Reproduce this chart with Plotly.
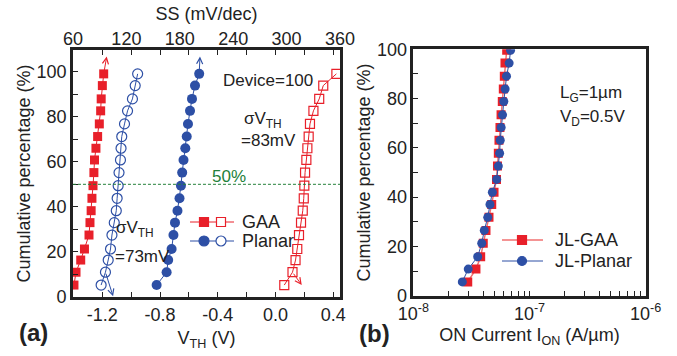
import plotly.graph_objects as go

# ---------------- data ----------------
# panel (a): cumulative percentage of 100 devices
pct_a = [5.3, 11.0, 16.4, 21.3, 27.5, 33.0, 38.3, 43.8, 49.4, 55.2, 60.8, 66.0, 71.2, 76.8, 82.6, 87.9, 93.8, 99.0]
ss_gaa = [61.1, 63.4, 68.7, 72.9, 78.0, 79.1, 80.4, 81.3, 82.5, 83.5, 84.2, 85.8, 87.7, 89.6, 91.1, 91.7, 93.0, 94.5]
ss_planar = [154.0, 165.2, 167.0, 170.8, 172.9, 174.6, 177.4, 179.7, 181.3, 182.7, 184.2, 186.2, 187.8, 189.2, 191.5, 193.7, 197.1, 201.8]
vth_gaa = [0.061, 0.118, 0.139, 0.151, 0.163, 0.177, 0.189, 0.196, 0.200, 0.205, 0.214, 0.221, 0.230, 0.239, 0.263, 0.303, 0.331, 0.422]
vth_planar = [-1.208, -1.178, -1.159, -1.143, -1.133, -1.117, -1.103, -1.097, -1.090, -1.084, -1.074, -1.070, -1.065, -1.046, -1.025, -0.991, -0.972, -0.955]

# panel (b)
pct_b = [5.6, 10.8, 15.8, 21.3, 26.5, 31.8, 37.0, 42.0, 47.2, 52.6, 57.8, 63.1, 68.3, 73.4, 78.8, 83.9, 89.1, 94.4, 99.6]
ion_gaa = [2.94e-8, 3.46e-8, 3.80e-8, 4.00e-8, 4.22e-8, 4.48e-8, 4.73e-8, 4.95e-8, 5.20e-8, 5.30e-8,
           5.39e-8, 5.46e-8, 5.57e-8, 5.69e-8, 5.83e-8, 5.95e-8, 6.07e-8, 6.15e-8, 6.36e-8]
ion_planar = [2.64e-8, 2.97e-8, 3.58e-8, 3.88e-8, 4.08e-8, 4.37e-8, 4.57e-8, 4.79e-8, 5.22e-8, 5.39e-8,
              5.53e-8, 5.60e-8, 5.70e-8, 5.86e-8, 6.01e-8, 6.17e-8, 6.34e-8, 6.68e-8, 6.87e-8]

vth_ticks = [-1.2, -1.0, -0.8, -0.6, -0.4, -0.2, 0.0, 0.2, 0.4]
vth_text = ["-1.2", "", "-0.8", "", "-0.4", "", "0.0", "", "0.4"]
ss_ticks = [60, 120, 180, 240, 300, 360]
pct_ticks = [0, 10, 20, 30, 40, 50, 60, 70, 80, 90, 100]
pct_text = ["0", "", "20", "", "40", "", "60", "", "80", "", "100"]
ion_ticks = [m * 10.0 ** e for e in (-8, -7) for m in range(1, 10)] + [1e-6]
ion_text = ["10<sup>-8</sup>" if i == 0 else ("10<sup>-7</sup>" if i == 9 else "") for i in range(18)] + ["10<sup>-6</sup>"]

RED = "#e8202a"
BLUE = "#2d4fa5"
GREEN = "#23803a"
INK = "#222222"
FONT = "Liberation Sans, Arial, sans-serif"

fig = go.Figure()

# panel (a) traces
fig.add_trace(go.Scatter(x=ss_gaa, y=pct_a, xaxis="x2", yaxis="y", mode="lines+markers",
                         line=dict(color=RED, width=1),
                         marker=dict(symbol="square", size=9, color=RED), showlegend=False))
fig.add_trace(go.Scatter(x=vth_planar, y=pct_a, xaxis="x", yaxis="y", mode="lines+markers",
                         line=dict(color=BLUE, width=1),
                         marker=dict(symbol="circle-open", size=10, color=BLUE, line=dict(width=1.2)),
                         showlegend=False))
fig.add_trace(go.Scatter(x=ss_planar, y=pct_a, xaxis="x2", yaxis="y", mode="lines+markers",
                         line=dict(color=BLUE, width=1),
                         marker=dict(symbol="circle", size=10, color=BLUE), showlegend=False))
fig.add_trace(go.Scatter(x=vth_gaa, y=pct_a, xaxis="x", yaxis="y", mode="lines+markers",
                         line=dict(color=RED, width=1),
                         marker=dict(symbol="square-open", size=9, color=RED, line=dict(width=1.2)),
                         showlegend=False))

# panel (b) traces
fig.add_trace(go.Scatter(x=ion_gaa, y=pct_b, xaxis="x3", yaxis="y3", mode="lines+markers",
                         line=dict(color="#f07070", width=1.5),
                         marker=dict(symbol="square", size=9, color=RED), name="JL-GAA", showlegend=False))
fig.add_trace(go.Scatter(x=ion_planar, y=pct_b, xaxis="x3", yaxis="y3", mode="lines+markers",
                         line=dict(color=BLUE, width=1),
                         marker=dict(symbol="circle", size=9, color=BLUE), name="JL-Planar", showlegend=False))

axis_common = dict(showline=True, linewidth=2.5, linecolor=INK, showgrid=False, zeroline=False,
                   ticks="inside", ticklen=5, tickwidth=1, tickcolor=INK, automargin=False,
                   tickfont=dict(size=18, color=INK, family=FONT))

fig.update_layout(
    width=677, height=356, margin=dict(l=0, r=0, t=0, b=0, autoexpand=False),
    paper_bgcolor="white", plot_bgcolor="white",
    font=dict(family=FONT, color=INK),
    xaxis=dict(domain=[0.1078, 0.5022], anchor="y", range=[-1.403, 0.447], tickmode="array",
               tickvals=vth_ticks, ticktext=vth_text, mirror="ticks",
               title=dict(text="V<sub>TH</sub> (V)", font=dict(size=18, family=FONT), standoff=8),
               **axis_common),
    xaxis2=dict(overlaying="x", side="top", anchor="y", range=[60, 360], tickmode="array",
                tickvals=ss_ticks, showline=False, showgrid=False, zeroline=False, ticks="",
                automargin=False,
                tickfont=dict(size=18, color=INK, family=FONT),
                title=dict(text="SS (mV/dec)", font=dict(size=18, family=FONT), standoff=4)),
    yaxis=dict(domain=[0.1657, 0.8596], anchor="x", range=[0, 109.6], tickmode="array",
               tickvals=pct_ticks, ticktext=pct_text, mirror=True,
               title=dict(text="Cumulative percentage (%)", font=dict(size=18, family=FONT), standoff=2),
               **axis_common),
    xaxis3=dict(domain=[0.6105, 0.9538], anchor="y3", type="log", range=[-8, -6], tickmode="array",
                tickvals=ion_ticks, ticktext=ion_text, mirror=True,
                title=dict(text="ON Current I<sub>ON</sub> (A/\u00b5m)", font=dict(size=18, family=FONT), standoff=6),
                **axis_common),
    yaxis3=dict(domain=[0.1694, 0.8615], anchor="x3", range=[0, 100], tickmode="array",
                tickvals=pct_ticks, ticktext=pct_text, mirror=True,
                title=dict(text="Cumulative percentage (%)", font=dict(size=18, family=FONT), standoff=2),
                **axis_common),
)

# 50% reference line
fig.add_shape(type="line", xref="x domain", yref="y", x0=0, x1=1, y0=50, y1=50,
              line=dict(color=GREEN, width=1, dash="3px,2px"))

W, H = 677.0, 356.0
def px(x):
    return x / W
def py(y):
    return 1 - y / H

ann = []
def text(x, y, s, size=17, color=INK, xanchor="center", bold=False):
    ann.append(dict(xref="paper", yref="paper", x=px(x), y=py(y), text=("<b>%s</b>" % s) if bold else s,
                    showarrow=False, xanchor=xanchor, yanchor="middle",
                    font=dict(size=size, color=color, family=FONT)))

text(268, 81, "Device=100")
text(263, 120, "\u03c3V<sub>TH</sub>")
text(268, 140, "=83mV")
text(229, 177, "50%", color=GREEN)
text(135, 229, "\u03c3V<sub>TH</sub>")
text(142, 256, "=73mV")
text(558, 94, "L<sub>G</sub>=1\u00b5m", xanchor="left")
text(558, 118, "V<sub>D</sub>=0.5V", xanchor="left")
text(33, 332, "(a)", size=24, bold=True)
text(374, 333, "(b)", size=24, bold=True)

# arrows marking which axis each series belongs to
def arrow(xref, x0, y0, x1, y1, color):
    ann.append(dict(xref=xref, yref="y", axref=xref, ayref="y", x=x1, y=y1, ax=x0, ay=y0, text="",
                    showarrow=True, arrowhead=5, arrowsize=1.2, arrowwidth=1, arrowcolor=color))

arrow("x2", ss_gaa[-1], pct_a[-1], 97.9, 106.7, RED)
arrow("x2", ss_planar[-1], pct_a[-1], 202.7, 106.7, BLUE)
arrow("x", vth_planar[1], pct_a[1], -1.125, 0.3, BLUE)
arrow("x", vth_gaa[1], pct_a[1], 0.182, 5.3, RED)

# custom legends (line + filled + open symbol)
def leg_line(x0, x1, y, color, width=1):
    fig.add_shape(type="line", xref="paper", yref="paper", x0=px(x0), x1=px(x1), y0=py(y), y1=py(y),
                  line=dict(color=color, width=width))

def leg_sym(x, y, kind, color, filled, size=9):
    fig.add_shape(type=kind, xref="paper", yref="paper", xsizemode="pixel", ysizemode="pixel",
                  xanchor=px(x), yanchor=py(y), x0=-size / 2, x1=size / 2, y0=-size / 2, y1=size / 2,
                  line=dict(color=color, width=1.2), fillcolor=color if filled else "white")

leg_line(190, 234, 222, RED)
leg_sym(204, 222, "rect", RED, True)
leg_sym(221, 222, "rect", RED, False)
text(240, 222, "GAA", xanchor="left", size=18)
leg_line(190, 234, 241, BLUE)
leg_sym(204, 241, "circle", BLUE, True, 10)
leg_sym(221, 241, "circle", BLUE, False, 10)
text(240, 241, "Planar", xanchor="left", size=18)

leg_line(502, 543, 240, "#f07070", 1.5)
leg_sym(522, 240, "rect", RED, True)
text(553, 240, "JL-GAA", xanchor="left", size=18)
leg_line(502, 543, 261, BLUE)
leg_sym(522, 261, "circle", BLUE, True)
text(553, 261, "JL-Planar", xanchor="left", size=18)

fig.update_layout(annotations=ann)
fig.write_html("out.html", config={"displayModeBar": False},
               post_script="document.body.style.margin='0';")
